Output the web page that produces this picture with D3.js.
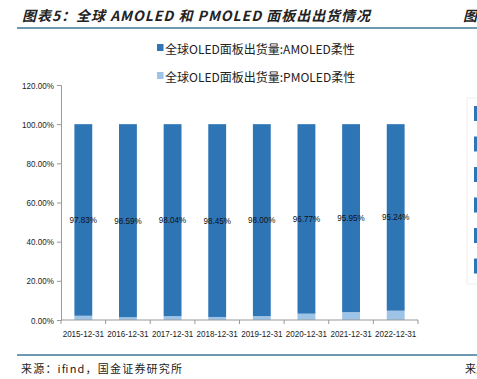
<!DOCTYPE html>
<html>
<head>
<meta charset="utf-8">
<script src="https://cdn.jsdelivr.net/npm/d3@7"></script>
<style>
body { margin: 0; background: #fff; }
</style>
</head>
<body>
<script>
var w = 477;
var h = 379;

// data
var years = ["2015-12-31", "2016-12-31", "2017-12-31", "2018-12-31", "2019-12-31", "2020-12-31", "2021-12-31", "2022-12-31"];
var amoled = [97.83, 98.59, 98.04, 98.45, 98.00, 96.77, 95.95, 95.24];
var pmoled = [2.17, 1.41, 1.96, 1.55, 2.00, 3.23, 4.05, 4.76];
var yTicks = [0, 20, 40, 60, 80, 100, 120];
var seriesNames = ["全球OLED面板出货量:AMOLED柔性", "全球OLED面板出货量:PMOLED柔性"];
var colors = ["#2e75b6", "#9dc3e6"];

var svg = d3.select("body").append("svg").attr("width", w).attr("height", h);

var narrow = "'Liberation Sans', Arial, sans-serif";
var cjk = "'Noto Sans CJK SC', sans-serif";

// squeeze text a bit horizontally, the original uses a narrow face
function squeeze(sel, k) {
    sel.each(function() {
        var len = this.getComputedTextLength();
        d3.select(this).attr("textLength", len * k).attr("lengthAdjust", "spacingAndGlyphs");
    });
}

// header
svg.append("text").attr("x", 22).attr("y", 21)
    .text("图表5：全球 AMOLED 和 PMOLED 面板出出货情况")
    .attr("font-family", cjk).attr("font-size", "14px").attr("font-weight", "bold")
    .attr("font-style", "italic").attr("fill", "#222")
    .attr("textLength", 348).attr("lengthAdjust", "spacing");
svg.append("text").attr("x", 463).attr("y", 21).text("图")
    .attr("font-family", cjk).attr("font-size", "14px").attr("font-weight", "bold")
    .attr("font-style", "italic").attr("fill", "#222");
svg.append("line").attr("x1", 17).attr("x2", w).attr("y1", 28).attr("y2", 28)
    .attr("stroke", "#3d7896").attr("stroke-width", 1.5);

// footer
svg.append("line").attr("x1", 17).attr("x2", w).attr("y1", 355).attr("y2", 355)
    .attr("stroke", "#3d7896").attr("stroke-width", 1.5);
svg.append("text").attr("x", 21).attr("y", 373).text("来源：ifind，国金证券研究所")
    .attr("font-family", cjk).attr("font-size", "11px").attr("fill", "#222")
    .attr("textLength", 161).attr("lengthAdjust", "spacing");
svg.append("text").attr("x", 465).attr("y", 373).text("来源")
    .attr("font-family", cjk).attr("font-size", "11px").attr("fill", "#222");

// scales
var xS = d3.scaleBand().domain(years).range([61, 418]).paddingInner(0.6).paddingOuter(0.3);
var yS = d3.scaleLinear().domain([0, 120]).range([320, 85]);

// stacked bars
var rows = years.map(function(d, i) { return {year: d, pm: pmoled[i], am: amoled[i]}; });
var stack = d3.stack().keys(["pm", "am"])(rows);

svg.selectAll("g.layer").data(stack).enter().append("g")
    .attr("fill", function(d, i) { return i === 0 ? colors[1] : colors[0]; })
    .selectAll("rect").data(function(d) { return d; }).enter().append("rect")
    .attr("x", function(d) { return xS(d.data.year); })
    .attr("width", xS.bandwidth())
    .attr("y", function(d) { return yS(d[1]); })
    .attr("height", function(d) { return yS(d[0]) - yS(d[1]); });

// value labels in the middle of the AMOLED part
svg.selectAll("text.val").data(rows).enter().append("text")
    .attr("class", "val")
    .attr("x", function(d) { return xS(d.year) + xS.bandwidth() / 2; })
    .attr("y", function(d) { return yS(d.pm + d.am / 2) + 3; })
    .attr("text-anchor", "middle")
    .attr("font-family", narrow).attr("font-size", "9.5px").attr("fill", "#111")
    .text(function(d) { return d.am.toFixed(2) + "%"; })
    .call(squeeze, 0.85);

// y axis
var yA = d3.axisLeft(yS).tickValues(yTicks).tickSize(4).tickPadding(3)
    .tickFormat(function(d) { return d.toFixed(2) + "%"; });
var gy = svg.append("g").attr("transform", "translate(61,0)").call(yA);
gy.select(".domain").attr("stroke", "#999");
gy.selectAll(".tick line").attr("stroke", "#999");
gy.selectAll(".tick text").attr("font-family", narrow).attr("font-size", "9.5px").attr("fill", "#222")
    .call(squeeze, 0.85);

// x axis with ticks between categories
var gx = svg.append("g").attr("transform", "translate(0,320)");
gx.append("line").attr("x1", 61).attr("x2", 418).attr("stroke", "#999");
var bounds = d3.range(years.length + 1).map(function(i) { return 61 + i * xS.step(); });
gx.selectAll("line.tk").data(bounds).enter().append("line")
    .attr("class", "tk")
    .attr("x1", function(d) { return d; }).attr("x2", function(d) { return d; })
    .attr("y1", 0).attr("y2", 4).attr("stroke", "#999");
gx.selectAll("text").data(years).enter().append("text")
    .attr("x", function(d) { return xS(d) + xS.bandwidth() / 2; })
    .attr("y", 17)
    .attr("text-anchor", "middle")
    .attr("font-family", narrow).attr("font-size", "9.5px").attr("fill", "#222")
    .text(function(d) { return d; })
    .call(squeeze, 0.85);

// legend
var lg = svg.selectAll("g.lg").data(seriesNames).enter().append("g")
    .attr("transform", function(d, i) { return "translate(157," + (44 + i * 28) + ")"; });
lg.append("rect").attr("width", 6.5).attr("height", 7)
    .attr("fill", function(d, i) { return colors[i]; });
lg.append("text").attr("x", 8).attr("y", 10).text(function(d) { return d; })
    .attr("font-family", cjk).attr("font-size", "12px").attr("fill", "#222");

// edge of the neighbouring chart, cut off on the right
var edge = svg.append("g");
edge.append("rect").attr("x", 467).attr("y", 98).attr("width", 20).attr("height", 186)
    .attr("fill", "none").attr("stroke", "#eee");
edge.selectAll("rect.sq").data(d3.range(6)).enter().append("rect")
    .attr("x", 474).attr("y", function(d) { return 106 + d * 30.5; })
    .attr("width", 5).attr("height", 15).attr("fill", colors[0]);
</script>
</body>
</html>
